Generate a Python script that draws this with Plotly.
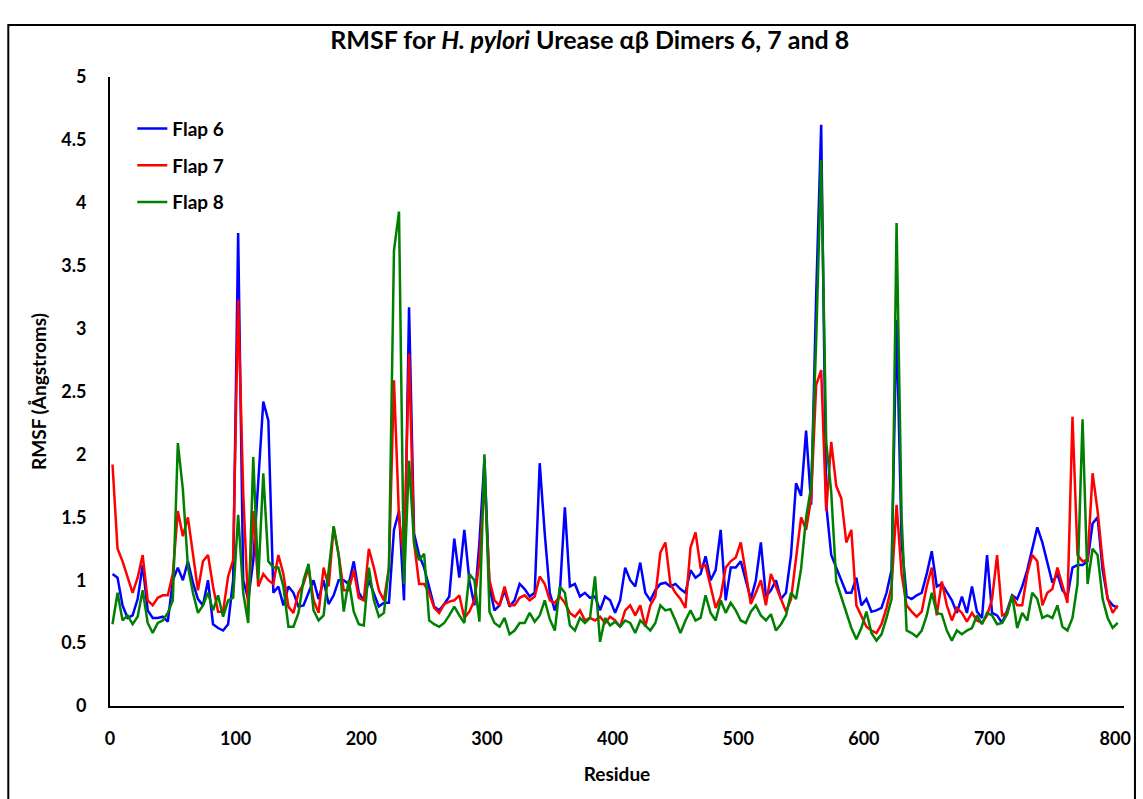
import plotly.graph_objects as go

# Residue numbers sampled every 4 residues along the alpha-beta dimer
residues = list(range(2, 803, 4))

# RMSF (Angstroms) per residue for each flap
flap6 = [
    1.05, 1.02, 0.80, 0.70, 0.72, 0.85, 1.12, 0.76, 0.70, 0.70,
    0.71, 0.67, 1.00, 1.10, 1.00, 1.15, 0.98, 0.85, 0.80, 1.00,
    0.65, 0.62, 0.60, 0.65, 1.00, 3.76, 1.00, 0.85, 1.15, 1.75,
    2.42, 2.27, 0.90, 0.95, 0.80, 0.95, 0.90, 0.79, 0.80, 0.90,
    1.00, 0.85, 1.00, 0.81, 0.88, 1.00, 1.00, 0.97, 1.15, 0.90,
    0.84, 1.00, 0.90, 0.79, 0.82, 0.82, 1.40, 1.55, 0.84, 3.17,
    1.37, 1.20, 1.10, 0.95, 0.79, 0.76, 0.81, 0.87, 1.33, 1.02,
    1.40, 1.00, 0.80, 1.30, 1.96, 0.95, 0.76, 0.80, 0.92, 0.79,
    0.84, 0.97, 0.93, 0.87, 0.90, 1.93, 1.37, 0.90, 0.76, 0.90,
    1.58, 0.95, 0.97, 0.87, 0.90, 0.86, 0.87, 0.76, 0.87, 0.84,
    0.74, 0.84, 1.10, 1.00, 0.95, 1.14, 0.90, 0.84, 0.92, 0.97,
    0.98, 0.95, 0.97, 0.93, 0.90, 1.08, 1.02, 1.05, 1.19, 1.00,
    1.08, 1.40, 0.84, 1.10, 1.10, 1.15, 1.00, 0.85, 1.00, 1.30,
    0.87, 0.92, 1.00, 0.85, 0.90, 1.20, 1.77, 1.67, 2.19, 1.60,
    3.26, 4.62, 1.60, 1.20, 1.10, 1.00, 0.90, 0.90, 1.02, 0.80,
    0.85, 0.75, 0.76, 0.78, 0.90, 1.08, 3.07, 1.30, 0.87, 0.85,
    0.88, 0.90, 1.05, 1.23, 0.95, 0.97, 0.90, 0.84, 0.74, 0.87,
    0.74, 0.95, 0.75, 0.70, 1.20, 0.74, 0.72, 0.66, 0.76, 0.88,
    0.85, 0.95, 1.08, 1.25, 1.42, 1.30, 1.15, 0.98, 1.05, 0.92,
    0.87, 1.10, 1.12, 1.12, 1.15, 1.45, 1.50, 1.08, 0.85, 0.80,
    0.78,
]

flap7 = [
    1.92, 1.25, 1.15, 1.03, 0.90, 1.02, 1.20, 0.84, 0.80, 0.86,
    0.88, 0.88, 1.05, 1.55, 1.35, 1.50, 1.22, 0.92, 1.15, 1.20,
    0.95, 0.75, 0.75, 1.03, 1.16, 3.23, 1.70, 0.77, 1.55, 0.95,
    1.05, 1.00, 0.97, 1.20, 1.05, 0.79, 0.74, 0.90, 0.97, 1.10,
    0.84, 0.74, 1.10, 0.95, 1.42, 1.20, 0.92, 0.92, 1.08, 0.86,
    0.84, 1.25, 1.10, 0.92, 0.84, 1.10, 2.59, 1.50, 1.15, 2.80,
    1.30, 0.97, 0.97, 0.90, 0.78, 0.74, 0.81, 0.83, 0.84, 0.88,
    0.70, 0.75, 0.84, 1.15, 1.80, 1.00, 0.84, 0.80, 0.95, 0.80,
    0.80, 0.86, 0.88, 0.84, 0.87, 1.03, 0.97, 0.84, 0.82, 0.87,
    0.82, 0.74, 0.71, 0.76, 0.68, 0.70, 0.68, 0.71, 0.66, 0.71,
    0.68, 0.63, 0.76, 0.80, 0.72, 0.80, 0.63, 0.80, 0.87, 1.22,
    1.30, 0.97, 0.90, 0.85, 0.78, 1.26, 1.38, 1.10, 1.12, 0.95,
    0.78, 0.87, 1.10, 1.15, 1.18, 1.30, 1.05, 0.81, 0.90, 1.00,
    0.80, 1.05, 0.95, 0.85, 0.75, 0.85, 1.20, 1.50, 1.40, 1.65,
    2.55, 2.67, 1.55, 2.10, 1.75, 1.65, 1.30, 1.40, 0.80, 0.72,
    0.63, 0.60, 0.58, 0.65, 0.78, 0.95, 1.60, 1.05, 0.80, 0.75,
    0.71, 0.75, 0.95, 1.10, 0.72, 0.99, 0.80, 0.68, 0.78, 0.74,
    0.67, 0.74, 0.68, 0.66, 0.72, 0.85, 1.20, 0.72, 0.74, 0.88,
    0.80, 0.80, 1.05, 1.20, 1.15, 0.80, 0.90, 0.93, 1.10, 0.96,
    0.82, 2.30, 1.20, 1.15, 1.16, 1.85, 1.55, 1.15, 0.85, 0.74,
    0.80,
]

flap8 = [
    0.65, 0.90, 0.68, 0.72, 0.65, 0.71, 0.92, 0.66, 0.58, 0.66,
    0.68, 0.74, 0.84, 2.09, 1.72, 1.11, 0.90, 0.74, 0.80, 0.90,
    0.76, 0.88, 0.71, 0.84, 0.86, 1.52, 0.90, 0.66, 1.98, 1.00,
    1.85, 1.15, 1.10, 1.10, 0.95, 0.63, 0.63, 0.74, 1.00, 1.13,
    0.76, 0.68, 0.72, 1.10, 1.43, 1.20, 0.75, 1.00, 0.75, 0.65,
    0.64, 1.10, 0.84, 0.71, 0.74, 1.10, 3.62, 3.93, 0.97, 1.95,
    1.29, 1.16, 1.21, 0.68, 0.65, 0.63, 0.66, 0.72, 0.79, 0.72,
    0.66, 1.05, 1.00, 0.67, 2.00, 0.75, 0.66, 0.63, 0.70, 0.57,
    0.60, 0.66, 0.66, 0.74, 0.67, 0.72, 0.84, 0.69, 0.60, 0.95,
    0.90, 0.64, 0.60, 0.70, 0.66, 0.70, 1.03, 0.51, 0.70, 0.64,
    0.67, 0.63, 0.68, 0.66, 0.58, 0.68, 0.64, 0.60, 0.66, 0.80,
    0.76, 0.77, 0.68, 0.58, 0.68, 0.76, 0.68, 0.70, 0.88, 0.74,
    0.68, 0.84, 0.74, 0.82, 0.76, 0.68, 0.66, 0.75, 0.80, 0.72,
    0.68, 0.73, 0.60, 0.65, 0.72, 0.90, 0.85, 1.09, 1.50, 1.74,
    2.90, 4.34, 2.10, 1.70, 0.99, 0.87, 0.75, 0.62, 0.53, 0.62,
    0.75, 0.58, 0.52, 0.57, 0.70, 0.85, 3.84, 1.50, 0.60, 0.58,
    0.55, 0.60, 0.72, 0.90, 0.74, 0.73, 0.60, 0.52, 0.60, 0.57,
    0.60, 0.62, 0.72, 0.65, 0.74, 0.72, 0.65, 0.66, 0.73, 0.88,
    0.62, 0.74, 0.68, 0.90, 0.85, 0.70, 0.72, 0.70, 0.80, 0.63,
    0.60, 0.70, 0.97, 2.28, 0.97, 1.25, 1.20, 0.85, 0.70, 0.62,
    0.66,
]

series = [
    ("Flap 6", flap6, "#0000FF"),
    ("Flap 7", flap7, "#FF0000"),
    ("Flap 8", flap8, "#008000"),
]

x_ticks = [0, 100, 200, 300, 400, 500, 600, 700, 800]
y_ticks = [0, 0.5, 1, 1.5, 2, 2.5, 3, 3.5, 4, 4.5, 5]

FONT = "Lato, 'Open Sans', sans-serif"

fig = go.Figure()
for name, vals, color in series:
    fig.add_trace(go.Scatter(
        x=residues, y=vals, mode="lines", name=f"<b>{name}</b>",
        legendgroup=name,
        line=dict(color=color, width=2.5),
    ))

# plot-area geometry in pixels, used to place the outer frame
L, T, W, H = 110, 77, 1017, 629


def px_x(px):
    return (px - L) / W


def px_y(py):
    return (T + H - py) / H


fig.update_layout(
    width=1143, height=799,
    margin=dict(l=L, r=1143 - L - W, t=T, b=799 - T - H),
    paper_bgcolor="white", plot_bgcolor="white",
    font=dict(family=FONT, color="black"),
    title=dict(
        text="<b>RMSF for <i>H. pylori</i> Urease αβ Dimers 6, 7 and 8</b>",
        x=0.516, xanchor="center", y=0.949, yanchor="middle",
        font=dict(size=25, family=FONT),
    ),
    showlegend=True,
    legend=dict(
        x=0.022, y=0.948, xanchor="left", yanchor="top",
        bgcolor="rgba(0,0,0,0)", font=dict(size=19, family=FONT),
        tracegroupgap=9, itemwidth=30,
    ),
    xaxis=dict(
        range=[0, 807], tickvals=x_ticks, ticktext=[str(v) for v in x_ticks],
        showgrid=False, zeroline=False, showline=True, linecolor="black", linewidth=2,
        ticks="outside", ticklen=15, tickcolor="rgba(0,0,0,0)",
        tickfont=dict(size=18, family=FONT, weight="bold"),
        title=dict(text="<b>Residue</b>", font=dict(size=19, family=FONT), standoff=20),
    ),
    yaxis=dict(
        range=[0, 5], tickvals=y_ticks, ticktext=[f"{v:g}" for v in y_ticks],
        showgrid=False, zeroline=False, showline=True, linecolor="black", linewidth=2,
        ticks="outside", ticklen=18, tickcolor="rgba(0,0,0,0)",
        tickfont=dict(size=18, family=FONT, weight="bold"),
        title=dict(text="<b>RMSF (Ångstroms)</b>", font=dict(size=19, family=FONT), standoff=10),
    ),
    shapes=[dict(
        type="rect", xref="paper", yref="paper",
        x0=px_x(8), x1=px_x(1138), y0=px_y(810), y1=px_y(25),
        line=dict(color="black", width=2), fillcolor="rgba(0,0,0,0)", layer="below",
    )],
)

fig.write_html("out.html")
